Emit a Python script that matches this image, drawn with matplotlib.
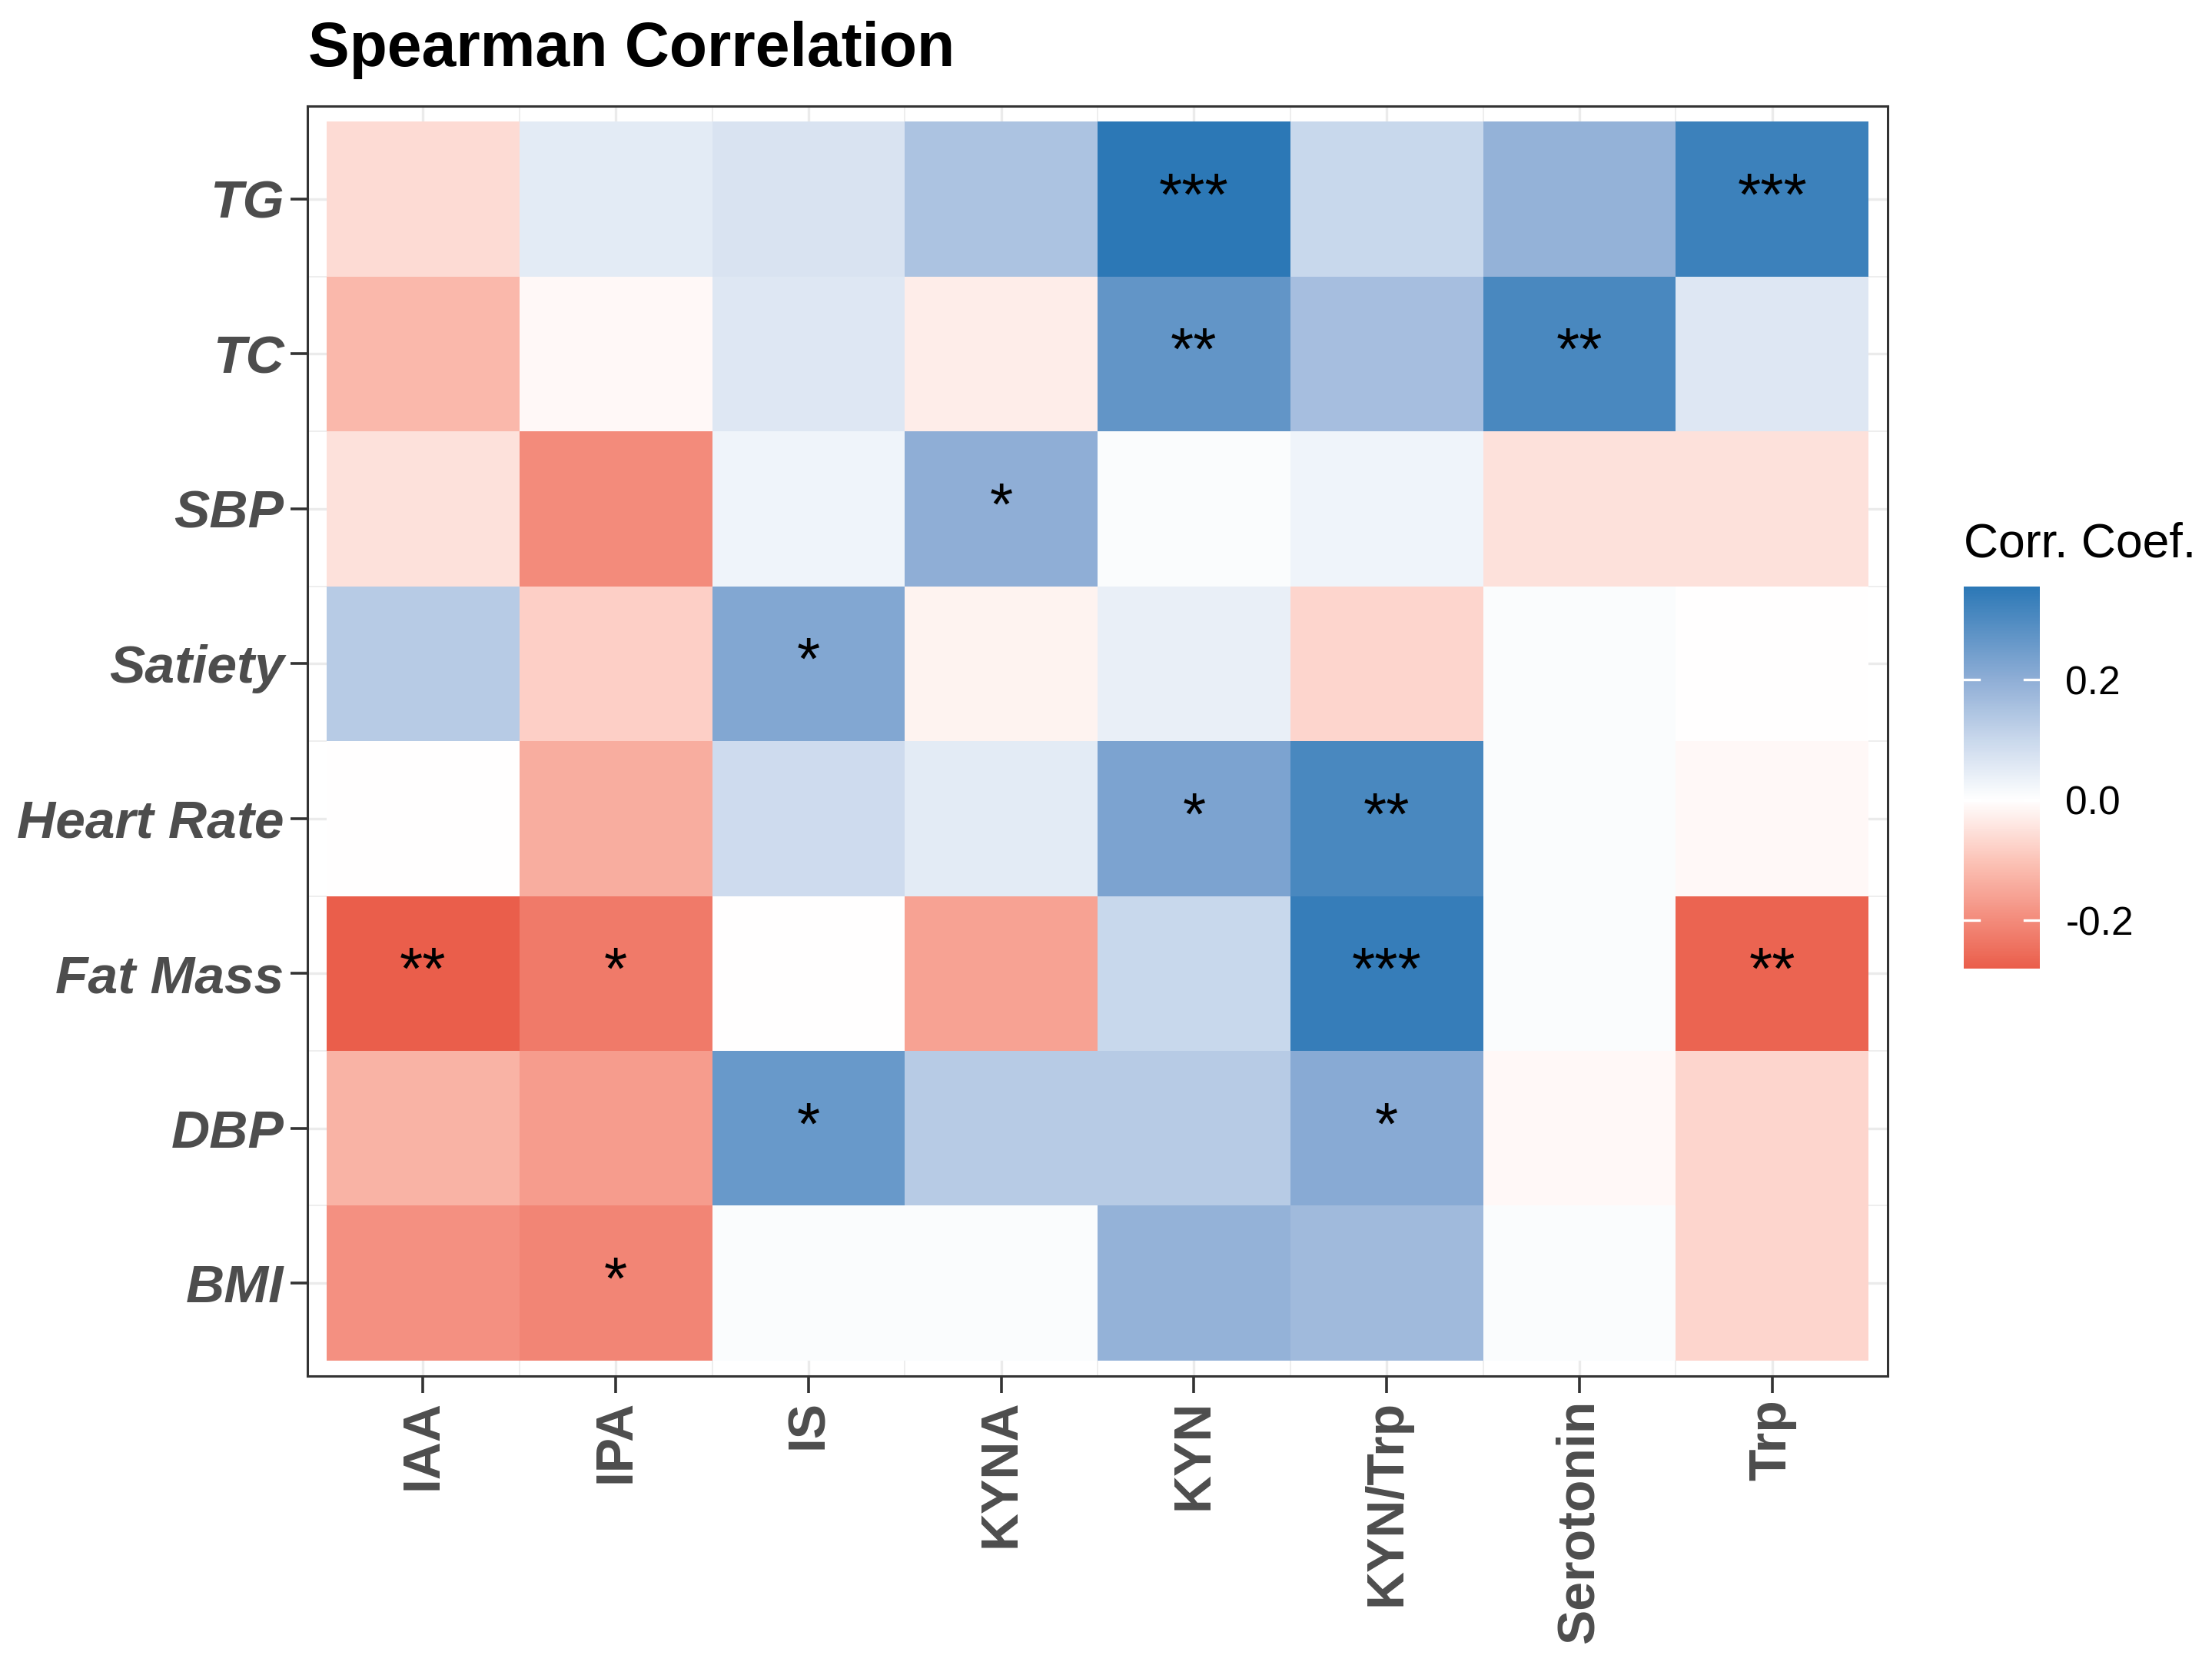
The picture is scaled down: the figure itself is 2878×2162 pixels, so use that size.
import numpy as np
import matplotlib
matplotlib.use("Agg")
import matplotlib.pyplot as plt
from matplotlib.colors import LinearSegmentedColormap, Normalize

plt.rcParams['font.family'] = ['Liberation Sans', 'DejaVu Sans']

# columns (metabolites) and rows (clinical traits, bottom -> top)
col_labels = ["IAA", "IPA", "IS", "KYNA", "KYN", "KYN/Trp", "Serotonin", "Trp"]
row_labels = ["BMI", "DBP", "Fat Mass", "Heart Rate", "Satiety", "SBP", "TC", "TG"]

corr_bmi = [-0.19, -0.21, 0.01, 0.01, 0.19, 0.17, 0.01, -0.07]
corr_dbp = [-0.13, -0.17, 0.26, 0.13, 0.13, 0.21, -0.01, -0.07]
corr_fat = [-0.28, -0.23, 0.00, -0.16, 0.10, 0.34, 0.01, -0.27]
corr_hr = [0.00, -0.14, 0.09, 0.05, 0.23, 0.31, 0.01, -0.01]
corr_sat = [0.13, -0.08, 0.22, -0.02, 0.04, -0.07, 0.01, 0.00]
corr_sbp = [-0.05, -0.20, 0.03, 0.20, 0.01, 0.03, -0.05, -0.05]
corr_tc = [-0.12, -0.01, 0.06, -0.03, 0.27, 0.16, 0.31, 0.06]
corr_tg = [-0.06, 0.05, 0.07, 0.15, 0.355, 0.10, 0.19, 0.33]

sig_bmi = ["", "*", "", "", "", "", "", ""]
sig_dbp = ["", "", "*", "", "", "*", "", ""]
sig_fat = ["**", "*", "", "", "", "***", "", "**"]
sig_hr = ["", "", "", "", "*", "**", "", ""]
sig_sat = ["", "", "*", "", "", "", "", ""]
sig_sbp = ["", "", "", "*", "", "", "", ""]
sig_tc = ["", "", "", "", "**", "", "**", ""]
sig_tg = ["", "", "", "", "***", "", "", "***"]

corr = np.array([corr_bmi, corr_dbp, corr_fat, corr_hr, corr_sat, corr_sbp, corr_tc, corr_tg])
sig = [sig_bmi, sig_dbp, sig_fat, sig_hr, sig_sat, sig_sbp, sig_tc, sig_tg]

# diverging palette
norm = Normalize(vmin=corr.min(), vmax=corr.max())
stops = [(-0.28, "#EA5E4B"), (-0.2, "#F38B7B"), (-0.1, "#FCC4B8"), (0.0, "#FFFFFF"),
         (0.1, "#C9D8EC"), (0.2, "#8FAED6"), (0.355, "#2C78B6")]
cmap = LinearSegmentedColormap.from_list(
    "corr", [(float(np.clip(norm(v), 0, 1)), c) for v, c in stops])

fig = plt.figure(figsize=(14.39, 10.81), dpi=200)
ax = fig.add_axes([0.139, 0.172, 0.7144, 0.7642])

nx, ny = len(col_labels), len(row_labels)
xs = np.arange(1, nx + 1)
ys = np.arange(1, ny + 1)

# theme_bw style grid
grid_col = "#EBEBEB"
for v in xs:
    ax.axvline(v, color=grid_col, lw=1.2, zorder=0)
for v in xs[:-1] + 0.5:
    ax.axvline(v, color=grid_col, lw=0.6, zorder=0)
for v in ys:
    ax.axhline(v, color=grid_col, lw=1.2, zorder=0)
for v in ys[:-1] + 0.5:
    ax.axhline(v, color=grid_col, lw=0.6, zorder=0)

im = ax.pcolormesh(np.arange(0.5, nx + 1), np.arange(0.5, ny + 1), corr,
                   cmap=cmap, norm=norm, zorder=1)

for i in range(ny):
    for j in range(nx):
        if sig[i][j]:
            ax.text(xs[j], ys[i], sig[i][j], ha='center', va='center',
                    fontsize=28, color='black', zorder=3)

ax.set_xlim(0.4, nx + 0.6)
ax.set_ylim(0.4, ny + 0.6)
ax.set_xticks(xs)
ax.set_yticks(ys)
ax.set_xticklabels(col_labels, rotation=90, fontsize=24.5, fontweight='bold',
                   color='#4D4D4D', va='top', ha='center')
ax.set_yticklabels(row_labels, fontsize=25, fontweight='bold', style='italic',
                   color='#4D4D4D')
ax.tick_params(axis='both', length=8, width=1.3, color='#333333', pad=3)
for s in ax.spines.values():
    s.set_color('#333333')
    s.set_linewidth(1.1)

fig.text(0.1395, 0.970, "Spearman Correlation", fontsize=29, fontweight='bold',
         ha='left', va='center', color='black')

# legend bar
cax = fig.add_axes([0.8878, 0.4172, 0.0344, 0.2299])
cb = fig.colorbar(im, cax=cax, ticks=[-0.2, 0.0, 0.2])
cb.outline.set_visible(False)
cb.ax.set_yticklabels(["-0.2", "0.0", "0.2"])
cax.tick_params(length=0, labelsize=18.5, pad=12, labelcolor='black')
tr = cax.get_yaxis_transform()
for t in [-0.2, 0.0, 0.2]:
    cax.plot([0, 0.2], [t, t], color='white', lw=1.2, transform=tr)
    cax.plot([0.8, 1.0], [t, t], color='white', lw=1.2, transform=tr)
fig.text(0.8878, 0.6651, "Corr. Coef.", fontsize=22.5, ha='left', va='baseline',
         color='black')

fig.savefig("out.png", dpi=200)
